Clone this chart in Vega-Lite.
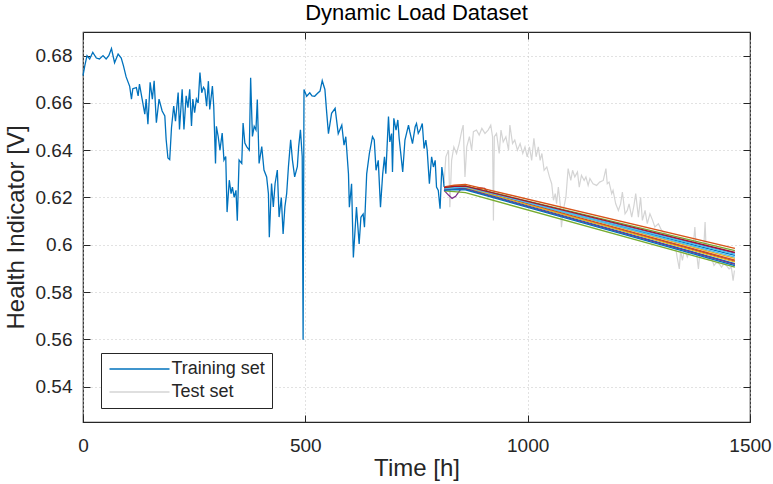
{
"$schema": "https://vega.github.io/schema/vega-lite/v6.json",
"width": 667, "height": 390,
"autosize": "none",
"padding": {"left": 83, "top": 32, "right": 23, "bottom": 62},
"background": "white",
"title": {"text": "Dynamic Load Dataset", "font": "Liberation Sans", "fontSize": 22, "fontWeight": "normal", "color": "#000000", "offset": 7},
"config": {"view": {"stroke": "#262626", "strokeWidth": 1.2}, "font": "Liberation Sans"},
"datasets": {
"train": [
{"h":0,"v":0.6715},{"h":4,"v":0.6757},{"h":9,"v":0.680},{"h":15,"v":0.6786},{"h":22,"v":0.6814},{"h":30,"v":0.679},{"h":37,"v":0.6786},{"h":45,"v":0.680},{"h":52,"v":0.6786},{"h":58,"v":0.680},{"h":64,"v":0.683},{"h":71,"v":0.677},{"h":79,"v":0.6807},{"h":86,"v":0.679},{"h":91,"v":0.6757},{"h":97,"v":0.671},{"h":105,"v":0.667},{"h":109,"v":0.6616},{"h":112,"v":0.666},{"h":120,"v":0.6665},{"h":124,"v":0.663},{"h":127,"v":0.668},{"h":133,"v":0.6616},{"h":139,"v":0.6552},{"h":142,"v":0.6616},{"h":146,"v":0.651},{"h":151,"v":0.6687},{"h":156,"v":0.6616},{"h":160,"v":0.6694},{"h":165,"v":0.6516},{"h":171,"v":0.6616},{"h":178,"v":0.6566},{"h":184,"v":0.6545},{"h":187,"v":0.6445},{"h":191,"v":0.6367},{"h":195,"v":0.636},{"h":199,"v":0.6495},{"h":204,"v":0.6587},{"h":208,"v":0.6523},{"h":214,"v":0.6644},{"h":217,"v":0.6488},{"h":223,"v":0.6658},{"h":227,"v":0.6488},{"h":232,"v":0.663},{"h":236,"v":0.658},{"h":240,"v":0.6658},{"h":244,"v":0.6502},{"h":247,"v":0.6616},{"h":251,"v":0.6559},{"h":255,"v":0.6616},{"h":259,"v":0.660},
{"h":263,"v":0.6728},{"h":267,"v":0.6643},{"h":271,"v":0.6666},{"h":274,"v":0.6657},{"h":278,"v":0.6586},{"h":282,"v":0.6692},{"h":285,"v":0.6572},{"h":291,"v":0.6671},{"h":294,"v":0.6586},{"h":298,"v":0.6344},{"h":300,"v":0.6501},{"h":304,"v":0.6458},{"h":308,"v":0.640},{"h":313,"v":0.6472},{"h":317,"v":0.6358},{"h":321,"v":0.6373},{"h":324,"v":0.6138},{"h":329,"v":0.6273},{"h":333,"v":0.6216},{"h":336,"v":0.6244},{"h":340,"v":0.620},{"h":344,"v":0.623},{"h":347,"v":0.6102},{"h":351,"v":0.6358},{"h":357,"v":0.6344},{"h":360,"v":0.6515},{"h":364,"v":0.643},{"h":368,"v":0.6415},{"h":374,"v":0.640},{"h":377,"v":0.6706},{"h":381,"v":0.6458},{"h":385,"v":0.6501},{"h":389,"v":0.6486},{"h":392,"v":0.6614},{"h":396,"v":0.6344},{"h":402,"v":0.6415},{"h":407,"v":0.6316},{"h":413,"v":0.6287},{"h":417,"v":0.6216},{"h":419,"v":0.6032},{"h":424,"v":0.6259},{"h":428,"v":0.616},{"h":432,"v":0.6259},{"h":437,"v":0.6316},{"h":441,"v":0.6117},{"h":446,"v":0.620},{"h":450,"v":0.6046},{"h":454,"v":0.616},{"h":458,"v":0.6216},{"h":462,"v":0.633},{"h":467,"v":0.6444},{"h":471,"v":0.6358},{"h":476,"v":0.6287},{"h":482,"v":0.633},{"h":485,"v":0.6415},{"h":489,"v":0.6486},{"h":493,"v":0.6373},{"h":495,"v":0.5598},{"h":497,"v":0.6657},{"h":503,"v":0.6628},{"h":510,"v":0.6643},{"h":515,"v":0.663},{"h":521,"v":0.6628},{"h":527,"v":0.664},{"h":533,"v":0.665},{"h":538,"v":0.6694},{"h":544,"v":0.6657},
{"h":548,"v":0.656},{"h":552,"v":0.647},{"h":559,"v":0.6556},{"h":567,"v":0.6577},{"h":574,"v":0.647},{"h":582,"v":0.6506},{"h":587,"v":0.6421},{"h":591,"v":0.6457},{"h":597,"v":0.630},{"h":599,"v":0.6159},{"h":604,"v":0.6258},{"h":608,"v":0.5946},{"h":615,"v":0.6159},{"h":621,"v":0.6003},{"h":625,"v":0.6116},{"h":630,"v":0.613},{"h":633,"v":0.6074},{"h":638,"v":0.630},{"h":644,"v":0.6386},{"h":651,"v":0.6457},{"h":655,"v":0.6443},{"h":659,"v":0.6315},{"h":664,"v":0.6357},{"h":669,"v":0.6159},{"h":674,"v":0.630},{"h":678,"v":0.6372},{"h":681,"v":0.630},{"h":687,"v":0.6542},{"h":690,"v":0.6435},{"h":694,"v":0.647},{"h":696,"v":0.6308},{"h":699,"v":0.6535},{"h":704,"v":0.6485},{"h":708,"v":0.6528},{"h":711,"v":0.645},{"h":719,"v":0.6308},{"h":724,"v":0.6443},{"h":732,"v":0.6506},{"h":735,"v":0.6478},{"h":741,"v":0.6428},{"h":747,"v":0.6499},{"h":750,"v":0.6513},{"h":754,"v":0.6471},{"h":758,"v":0.6485},{"h":763,"v":0.6513},{"h":767,"v":0.6407},{"h":771,"v":0.6443},{"h":774,"v":0.640},{"h":779,"v":0.6258},{"h":784,"v":0.6372},{"h":788,"v":0.6329},{"h":792,"v":0.6357},{"h":795,"v":0.6244},{"h":799,"v":0.623},{"h":803,"v":0.6152},{"h":807,"v":0.6329},{"h":810,"v":0.6287},{"h":812,"v":0.6245}
],
"test": [
{"h":812,"v":0.626},{"h":816,"v":0.6372},{"h":822,"v":0.640},{"h":825,"v":0.6159},{"h":829,"v":0.6357},{"h":834,"v":0.6414},{"h":840,"v":0.6386},{"h":846,"v":0.6428},{"h":852,"v":0.6485},{"h":855,"v":0.6506},{"h":859,"v":0.6287},{"h":863,"v":0.6414},{"h":869,"v":0.6457},{"h":874,"v":0.640},{"h":878,"v":0.6478},{"h":885,"v":0.6485},{"h":891,"v":0.6464},{"h":897,"v":0.6492},{"h":904,"v":0.6471},{"h":911,"v":0.6485},{"h":917,"v":0.6506},{"h":921,"v":0.6457},{"h":923,"v":0.6102},{"h":925,"v":0.6457},{"h":930,"v":0.6471},{"h":936,"v":0.6386},{"h":940,"v":0.6485},{"h":945,"v":0.6435},{"h":951,"v":0.6457},{"h":957,"v":0.640},{"h":960,"v":0.6506},{"h":966,"v":0.6428},{"h":971,"v":0.6443},{"h":977,"v":0.640},{"h":983,"v":0.6428},{"h":989,"v":0.6386},{"h":994,"v":0.6414},{"h":999,"v":0.6372},{"h":1004,"v":0.6414},{"h":1009,"v":0.6357},{"h":1014,"v":0.645},{"h":1019,"v":0.6372},{"h":1024,"v":0.6414},{"h":1028,"v":0.6357},{"h":1032,"v":0.6386},{"h":1037,"v":0.6315},{"h":1043,"v":0.6329},{"h":1049,"v":0.6287},{"h":1054,"v":0.6258},{"h":1058,"v":0.6188},{"h":1062,"v":0.6216},{"h":1065,"v":0.6174},{"h":1069,"v":0.6244},{"h":1073,"v":0.6174},{"h":1076,"v":0.6074},{"h":1080,"v":0.6145},{"h":1086,"v":0.6201},{"h":1091,"v":0.6322},{"h":1097,"v":0.6272},{"h":1101,"v":0.6315},{"h":1106,"v":0.6287},{"h":1112,"v":0.6308},{"h":1116,"v":0.6244},{"h":1121,"v":0.6294},{"h":1127,"v":0.6272},{"h":1131,"v":0.6287},{"h":1136,"v":0.6251},{"h":1140,"v":0.628},{"h":1147,"v":0.6258},{"h":1155,"v":0.6251},{"h":1162,"v":0.6265},{"h":1170,"v":0.6272},{"h":1176,"v":0.6322},{"h":1179,"v":0.6258},{"h":1183,"v":0.6265},{"h":1189,"v":0.6216},{"h":1192,"v":0.623},{"h":1198,"v":0.6173},{"h":1204,"v":0.6145},{"h":1209,"v":0.6173},{"h":1213,"v":0.6223},{"h":1219,"v":0.6131},{"h":1224,"v":0.6145},{"h":1228,"v":0.6173},{"h":1234,"v":0.6117},{"h":1239,"v":0.6166},{"h":1243,"v":0.6216},{"h":1249,"v":0.6117},{"h":1254,"v":0.6201},{"h":1258,"v":0.6103},{"h":1264,"v":0.6145},{"h":1269,"v":0.6089},{"h":1275,"v":0.6131},{"h":1281,"v":0.6103},{"h":1286,"v":0.6075},{"h":1294,"v":0.6089},{"h":1301,"v":0.6061},{"h":1309,"v":0.6047},{"h":1316,"v":0.604},{"h":1324,"v":0.6025},{"h":1331,"v":0.6011},{"h":1336,"v":0.5948},{"h":1341,"v":0.5898},{"h":1344,"v":0.5976},{"h":1348,"v":0.5934},{"h":1353,"v":0.5983},{"h":1359,"v":0.5948},{"h":1365,"v":0.5976},{"h":1371,"v":0.5962},{"h":1376,"v":0.6075},{"h":1380,"v":0.5962},{"h":1384,"v":0.5898},{"h":1387,"v":0.5962},{"h":1395,"v":0.5948},{"h":1399,"v":0.6096},{"h":1402,"v":0.5948},{"h":1408,"v":0.5934},{"h":1413,"v":0.5948},{"h":1419,"v":0.5912},{"h":1425,"v":0.5926},{"h":1431,"v":0.5919},{"h":1436,"v":0.5905},{"h":1441,"v":0.5919},{"h":1447,"v":0.5912},{"h":1453,"v":0.5898},{"h":1458,"v":0.5905},{"h":1462,"v":0.5848},{"h":1465,"v":0.5891}
],
"pred": [
{"series":"p01","h":812,"v":0.6232},{"series":"p01","h":835,"v":0.624},{"series":"p01","h":860,"v":0.6242},{"series":"p01","h":1466,"v":0.5955},
{"series":"p02","h":812,"v":0.6238},{"series":"p02","h":835,"v":0.6244},{"series":"p02","h":860,"v":0.6246},{"series":"p02","h":1466,"v":0.5935},
{"series":"p03","h":812,"v":0.6242},{"series":"p03","h":835,"v":0.625},{"series":"p03","h":860,"v":0.625},{"series":"p03","h":1466,"v":0.5942},
{"series":"p04","h":812,"v":0.623},{"series":"p04","h":822,"v":0.621},{"series":"p04","h":830,"v":0.6196},{"series":"p04","h":838,"v":0.6205},{"series":"p04","h":850,"v":0.6236},{"series":"p04","h":860,"v":0.624},{"series":"p04","h":1466,"v":0.5965},
{"series":"p05","h":812,"v":0.6228},{"series":"p05","h":835,"v":0.6225},{"series":"p05","h":860,"v":0.622},{"series":"p05","h":1466,"v":0.5905},
{"series":"p06","h":812,"v":0.624},{"series":"p06","h":835,"v":0.6246},{"series":"p06","h":860,"v":0.6247},{"series":"p06","h":1466,"v":0.5948},
{"series":"p07","h":812,"v":0.6236},{"series":"p07","h":835,"v":0.6242},{"series":"p07","h":860,"v":0.624},{"series":"p07","h":880,"v":0.6232},{"series":"p07","h":890,"v":0.624},{"series":"p07","h":903,"v":0.6238},{"series":"p07","h":915,"v":0.6214},{"series":"p07","h":1466,"v":0.593},
{"series":"p08","h":812,"v":0.6235},{"series":"p08","h":835,"v":0.6238},{"series":"p08","h":860,"v":0.6238},{"series":"p08","h":1466,"v":0.592},
{"series":"p09","h":812,"v":0.6245},{"series":"p09","h":835,"v":0.6252},{"series":"p09","h":860,"v":0.6255},{"series":"p09","h":1466,"v":0.5985},
{"series":"p10","h":812,"v":0.624},{"series":"p10","h":835,"v":0.6245},{"series":"p10","h":860,"v":0.6243},{"series":"p10","h":1466,"v":0.5927},
{"series":"p11","h":812,"v":0.6233},{"series":"p11","h":835,"v":0.6236},{"series":"p11","h":860,"v":0.6235},{"series":"p11","h":1466,"v":0.5917},
{"series":"p12","h":812,"v":0.6238},{"series":"p12","h":835,"v":0.6245},{"series":"p12","h":860,"v":0.6248},{"series":"p12","h":1466,"v":0.5975},
{"series":"p13","h":812,"v":0.6236},{"series":"p13","h":835,"v":0.6241},{"series":"p13","h":860,"v":0.6245},{"series":"p13","h":1466,"v":0.596},
{"series":"p14","h":812,"v":0.6242},{"series":"p14","h":835,"v":0.6247},{"series":"p14","h":860,"v":0.6248},{"series":"p14","h":1466,"v":0.5968},
{"series":"p15","h":812,"v":0.623},{"series":"p15","h":835,"v":0.6233},{"series":"p15","h":860,"v":0.6232},{"series":"p15","h":1466,"v":0.5912}
]
},
"resolve": {"axis": {"x": "independent", "y": "independent"}},
"layer": [
{
"data": {"name": "test"},
"mark": {"type": "line", "strokeWidth": 1.2},
"encoding": {
"x": {"field": "h", "type": "quantitative", "scale": {"domain": [0, 1500], "nice": false, "zero": false},
 "axis": {"orient": "bottom", "values": [0, 500, 1000, 1500], "format": "d", "grid": true, "gridDash": [1, 3], "gridColor": "#c4c4c4", "domain": false, "tickSize": -7, "tickColor": "#262626", "labelFont": "Liberation Sans", "labelFontSize": 19, "labelColor": "#262626", "labelPadding": 21, "labelFlush": false, "title": "Time [h]", "titleFont": "Liberation Sans", "titleFontSize": 24, "titleFontWeight": "normal", "titleColor": "#262626", "titlePadding": 1}},
"y": {"field": "v", "type": "quantitative", "scale": {"domain": [0.525, 0.69], "nice": false, "zero": false},
 "axis": {"orient": "left", "values": [0.54, 0.56, 0.58, 0.6, 0.62, 0.64, 0.66, 0.68], "format": ".2~f", "grid": true, "gridDash": [1, 3], "gridColor": "#c4c4c4", "domain": false, "tickSize": -7, "tickColor": "#262626", "labelFont": "Liberation Sans", "labelFontSize": 19, "labelColor": "#262626", "labelPadding": 18, "title": "Health Indicator [V]", "titleFont": "Liberation Sans", "titleFontSize": 24, "titleFontWeight": "normal", "titleColor": "#262626", "titlePadding": 7}},
"color": {"datum": "Test set", "type": "nominal"}
}
},
{
"data": {"name": "pred"},
"mark": {"type": "line", "strokeWidth": 1.3},
"encoding": {
"x": {"field": "h", "type": "quantitative", "axis": {"orient": "top", "values": [0, 500, 1000, 1500], "labels": false, "title": null, "grid": false, "domain": false, "tickSize": -7, "tickColor": "#262626"}},
"y": {"field": "v", "type": "quantitative", "axis": {"orient": "right", "values": [0.54, 0.56, 0.58, 0.6, 0.62, 0.64, 0.66, 0.68], "labels": false, "title": null, "grid": false, "domain": false, "tickSize": -7, "tickColor": "#262626"}},
"color": {"field": "series", "type": "nominal",
 "scale": {"domain": ["Training set", "Test set", "p01", "p02", "p03", "p04", "p05", "p06", "p07", "p08", "p09", "p10", "p11", "p12", "p13", "p14", "p15"],
  "range": ["#0072BD", "#D4D4D4", "#0072BD", "#D95319", "#EDB120", "#7E2F8E", "#77AC30", "#4DBEEE", "#A2142F", "#0072BD", "#D95319", "#EDB120", "#7E2F8E", "#77AC30", "#4DBEEE", "#A2142F", "#0072BD"]},
 "legend": {"values": ["Training set", "Test set"], "title": null, "orient": "none", "legendX": 18, "legendY": 321, "direction": "vertical", "symbolType": "M-4,0H4", "symbolSize": 225, "symbolStrokeWidth": 1.3, "symbolOffset": 22.5, "labelFont": "Liberation Sans", "labelFontSize": 18, "labelColor": "#262626", "labelOffset": 23, "strokeColor": "#262626", "fillColor": "white", "padding": 7, "rowPadding": 5}}
}
},
{
"data": {"name": "train"},
"mark": {"type": "line", "strokeWidth": 1.3},
"encoding": {
"x": {"field": "h", "type": "quantitative", "axis": null},
"y": {"field": "v", "type": "quantitative", "axis": null},
"color": {"datum": "Training set", "type": "nominal"}
}
}
]
}
